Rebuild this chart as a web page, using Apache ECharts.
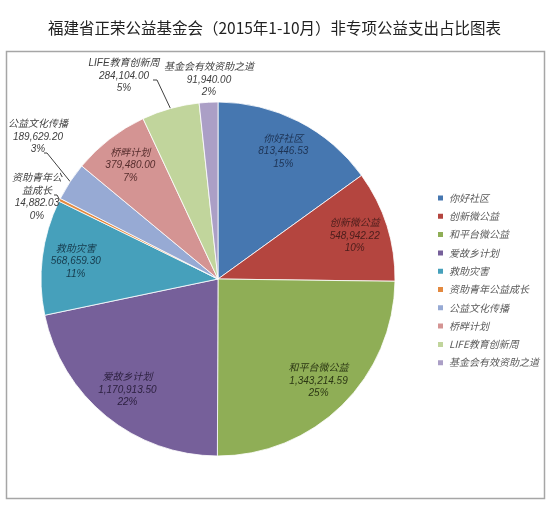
<!DOCTYPE html>
<html>
<head>
<meta charset="utf-8">
<script src="https://cdn.jsdelivr.net/npm/echarts@6/dist/echarts.min.js"></script>
<style>
  html, body { margin: 0; padding: 0; background: #fff; }
  #PieChart { width: 549px; height: 508px; }
</style>
</head>
<body>
<div id="PieChart"></div>
<script>
const names = ['你好社区', '创新微公益', '和平台微公益', '爱故乡计划', '救助灾害',
  '资助青年公益成长', '公益文化传播', '桥畔计划', 'LIFE教育创新周', '基金会有效资助之道'];
const amounts = [813446.53, 548942.22, 1343214.59, 1170913.50, 568659.30,
  14882.03, 189629.20, 379480.00, 284104.00, 91940.00];
const pctLabels = ['15%', '10%', '25%', '22%', '11%', '0%', '3%', '7%', '5%', '2%'];

const sliceColors = ['#4677b0', '#b4453f', '#8fae56', '#76609a', '#46a0bb',
  '#e3893f', '#97aad4', '#d49493', '#c1d59c', '#ab9fc6'];
const labelColors = ['#1d3354', '#4a1d1b', '#2c3714', '#2b1f3e', '#163a4c',
  '#404040', '#404040', '#552c2c', '#404040', '#404040'];

// pie geometry (px)
const cx = 218, cy = 279, r = 177;

// labels placed outside the pie, like the excel original
const outsideLabels = {
  5: { x: 37, y: 172, line: [[57, 195], [54, 195]] },
  6: { x: 38, y: 118, line: [[47, 153], [44, 153]] },
  8: { x: 124, y: 57, line: [[157, 80], [153, 80]] },
  9: { x: 209, y: 61, line: null }
};

function fmt(v) {
  const parts = v.toFixed(2).split('.');
  parts[0] = parts[0].replace(/\B(?=(\d{3})+(?!\d))/g, ',');
  return parts.join('.');
}

const chart = echarts.init(document.getElementById('PieChart'));

let pieData = [];
names.forEach((n, i) => {
  const out = outsideLabels[i];
  pieData.push({
    name: n,
    value: amounts[i],
    itemStyle: { color: sliceColors[i] },
    label: {
      position: out ? 'outside' : 'inside',
      color: labelColors[i],
      width: i === 5 ? 56 : undefined,
      overflow: i === 5 ? 'break' : 'none'
    },
    labelLine: { show: !!(out && out.line) }
  });
});

const option = {
  animation: false,
  title: {
    text: '福建省正荣公益基金会（2015年1-10月）非专项公益支出占比图表',
    left: 'center',
    top: 15,
    textStyle: {
      fontFamily: 'Noto Sans CJK SC',
      fontSize: 15.5,
      fontWeight: 'normal',
      color: '#222'
    }
  },
  graphic: [{
    type: 'rect',
    shape: { x: 6.5, y: 51.5, width: 538, height: 447 },
    style: { fill: 'none', stroke: '#a6a6a6', lineWidth: 1.5 },
    silent: true
  }],
  legend: {
    orient: 'vertical',
    left: 431,
    top: 187,
    itemWidth: 7,
    itemHeight: 7,
    itemGap: 6.3,
    icon: 'rect',
    data: names,
    textStyle: {
      fontFamily: 'Noto Sans CJK SC',
      fontStyle: 'italic',
      fontSize: 10,
      lineHeight: 12,
      color: '#595959'
    }
  },
  series: [{
    name: 'count',
    type: 'pie',
    center: [cx, cy],
    radius: [0, r],
    startAngle: 90,
    clockwise: true,
    avoidLabelOverlap: false,
    itemStyle: { borderColor: '#fff', borderWidth: 0.8 },
    label: {
      fontFamily: 'Liberation Sans, Noto Sans CJK SC',
      fontStyle: 'italic',
      fontSize: 10,
      lineHeight: 12.5,
      align: 'center',
      formatter: (p) => p.name + '\n' + fmt(p.value) + '\n' + pctLabels[p.dataIndex]
    },
    labelLine: {
      lineStyle: { color: '#404040', width: 1 }
    },
    labelLayout: (p) => {
      const i = p.dataIndex;
      const out = outsideLabels[i];
      if (out) {
        const res = { x: out.x, y: out.y, align: 'center', verticalAlign: 'top' };
        if (out.line && p.labelLinePoints) {
          res.labelLinePoints = [p.labelLinePoints[0], out.line[0], out.line[1]];
        }
        return res;
      }
      // push the inside labels further out, near 0.8 of the radius
      const lr = p.labelRect;
      const mx = lr.x + lr.width / 2;
      const my = lr.y + lr.height / 2;
      const k = 0.81 * r / Math.hypot(mx - cx, my - cy);
      return {
        x: cx + (mx - cx) * k,
        y: cy + (my - cy) * k,
        align: 'center',
        verticalAlign: 'middle'
      };
    },
    data: pieData
  }]
};

chart.setOption(option);
</script>
</body>
</html>
